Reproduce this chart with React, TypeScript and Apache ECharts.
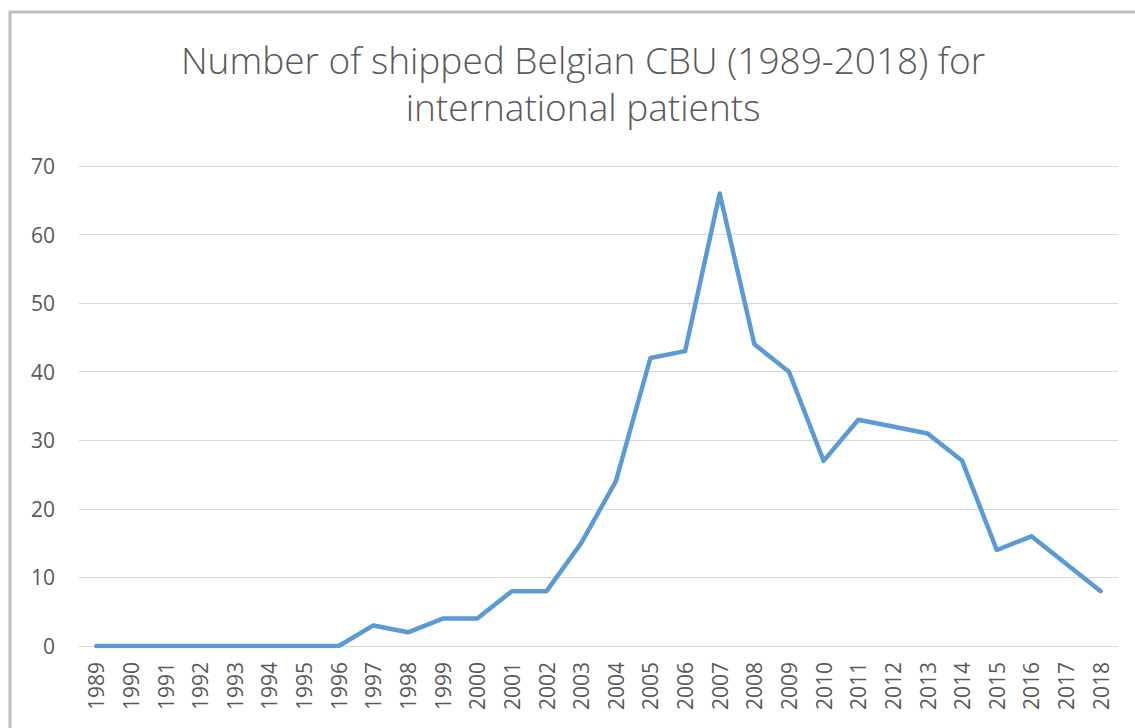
import React, { useEffect, useRef } from "react";
import * as echarts from "echarts";

const years = [
  "1989","1990","1991","1992","1993","1994","1995","1996","1997","1998",
  "1999","2000","2001","2002","2003","2004","2005","2006","2007","2008",
  "2009","2010","2011","2012","2013","2014","2015","2016","2017","2018",
];
const shipped = [0,0,0,0,0,0,0,0,3,2,4,4,8,8,15,24,42,43,66,44,40,27,33,32,31,27,14,16,12,8];
const titleText = "Number of shipped Belgian CBU (1989-2018) for\ninternational patients";

export default function App() {
  const ref = useRef<HTMLDivElement>(null);
  useEffect(() => {
    const chart = echarts.init(ref.current!, null, { renderer: "svg" });
    chart.setOption({
      animation: false,
      backgroundColor: "#ffffff",
      title: {
        text: titleText,
        left: 578,
        textAlign: "center",
        top: 31,
        textStyle: {
          fontFamily: "'Open Sans', 'Noto Sans', sans-serif",
          fontSize: 37,
          fontWeight: 300,
          color: "#595959",
          lineHeight: 47,
        },
      },
      graphic: [
        {
          type: "rect",
          shape: { x: 10, y: 12, width: 1140, height: 740 },
          style: { fill: "none", stroke: "#BFBFBF", lineWidth: 3 },
          silent: true,
        },
      ],
      grid: { left: 79, right: 17, top: 166, bottom: 82, containLabel: false },
      xAxis: {
        type: "category",
        data: years,
        boundaryGap: true,
        axisLine: { show: false },
        axisTick: { show: false },
        axisLabel: {
          rotate: 90,
          interval: 0,
          margin: 16,
          fontFamily: "'Open Sans', 'Noto Sans', sans-serif",
          fontSize: 21,
          color: "#595959",
        },
      },
      yAxis: {
        type: "value",
        min: 0,
        max: 70,
        interval: 10,
        axisLine: { show: false },
        axisTick: { show: false },
        splitLine: { lineStyle: { color: "#D9D9D9", width: 1 } },
        axisLabel: {
          margin: 24,
          fontFamily: "'Open Sans', 'Noto Sans', sans-serif",
          fontSize: 21,
          color: "#595959",
        },
      },
      series: [
        {
          type: "line",
          data: shipped,
          symbol: "none",
          lineStyle: { color: "#5B9BD5", width: 4.5, cap: "round", join: "round" },
        },
      ],
    });
    return () => chart.dispose();
  }, []);
  return (
    <div
      ref={ref}
      style={{ position: "fixed", left: 0, top: 0, width: 1135, height: 728 }}
    />
  );
}
